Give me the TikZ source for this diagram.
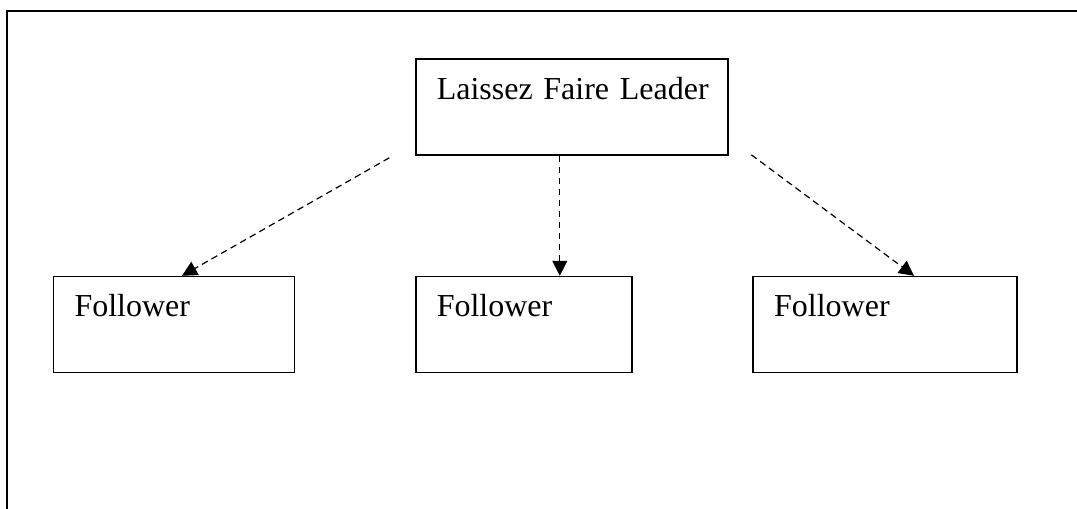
\documentclass[tikz,border=0pt]{standalone}
\usepackage{fontspec}
\setmainfont{Liberation Serif}
\usetikzlibrary{positioning,arrows.meta}
\tikzset{caja/.style={draw,line width=0.8pt,inner xsep=10.5pt,inner ysep=0pt,text height=20pt,text depth=28pt,align=left,font=\fontsize{16}{19}\selectfont}}
\tikzset{flecha/.style={line width=0.6pt,dash pattern=on 3.3pt off 2.2pt,-{Triangle[length=7.5pt,width=7.5pt]}}}

\begin{document}
\begin{tikzpicture}[x=1pt,y=1pt]
            \useasboundingbox (0,0) rectangle (538.5,-254.5);
            \draw[line width=0.8pt] (3.5,-254.5) -- (3.5,-5.5) -- (538.5,-5.5);

            \node[caja, text width=135pt] (leader) at (285.9,-53.5) {\mbox{Laissez Faire Leader}};
            \node[caja, text width=99.5pt, below left= 60pt and 59.85pt of leader] (1) {Follower};
            \node[caja, text width=87pt,   below= 60pt of leader.south west, anchor=north west] (2) {Follower};
            \node[caja, text width=111pt,  below right= 60pt and 11.85pt of leader] (3) {Follower};

            \coordinate (a1) at ([shift={(-12.85pt,-1pt)}]leader.south west);
            \coordinate (a3) at ([shift={(11.35pt,0.5pt)}]leader.south east);

            \draw[flecha] (a1) to ([xshift=4pt]1.north);
            \draw[flecha] ([xshift=-6pt]leader.south) to ([xshift=-6pt]leader.south |- 2.north);
            \draw[flecha] (a3) to ([xshift=14.5pt]3.north);
        \end{tikzpicture}
\end{document}
